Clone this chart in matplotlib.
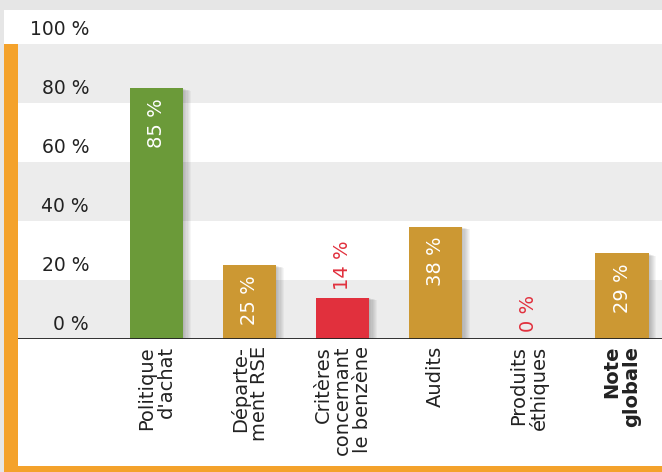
import numpy as np
import matplotlib.pyplot as plt
from matplotlib.patches import Rectangle

plt.rcParams['font.family'] = ['DejaVu Sans']

categories = ["Politique\nd'achat", "Départe-\nment RSE", "Critères\nconcernant\nle benzène",
              "Audits", "Produits\néthiques", "Note\nglobale"]
values = [85, 25, 14, 38, 0, 29]
bar_colors = ["#6b9a39", "#cc9833", "#e1303d", "#cc9833", "#e1303d", "#cc9833"]
y_ticks = [0, 20, 40, 60, 80, 100]
y_tick_labels = ["0 %", "20 %", "40 %", "60 %", "80 %", "100 %"]

W, H = 662, 472
fig = plt.figure(figsize=(W / 100, H / 100), dpi=100)
fig.patch.set_facecolor("white")

# frame: grey strips on top/left, orange strips on left/bottom
frame = fig.add_axes([0, 0, 1, 1])
frame.set_xlim(0, W)
frame.set_ylim(H, 0)
frame.axis("off")
frame.add_patch(Rectangle((0, 0), W, 10, color="#e6e6e6", lw=0))
frame.add_patch(Rectangle((0, 0), 4, H, color="#e6e6e6", lw=0))
frame.add_patch(Rectangle((4, 44), 14, H - 44, color="#f4a22b", lw=0))
frame.add_patch(Rectangle((4, 466), W - 4, 6, color="#f4a22b", lw=0))

ax = fig.add_axes([18 / W, 1 - 339 / H, 1 - 18 / W, (339 - 44) / H])
ax.set_facecolor("none")
step = 93.1
x0 = 156.5
ax.set_xlim((18 - x0) / step, (W - x0) / step)
ax.set_ylim(0, 100)

# alternating background bands
for lo in [0, 40, 80]:
    ax.axhspan(lo, lo + 20, color="#ececec", lw=0, zorder=0)

x = np.arange(len(values))
width = 0.57

# soft drop shadow to the right of each bar
for xi, v in zip(x, values):
    if v <= 0:
        continue
    for k in range(1, 8):
        ax.add_patch(Rectangle((xi - width / 2 + k * 0.012, 0), width, v - k * 0.12,
                               color="black", alpha=0.035, lw=0, zorder=1))

ax.bar(x, values, width=width, color=bar_colors, zorder=2)

for xi, v, c in zip(x, values, bar_colors):
    txt = f"{v} %"
    if v >= 20:
        ax.text(xi, v - 3.3, txt, rotation=90, ha="center", va="top",
                color="white", fontsize=14, zorder=3)
    else:
        ax.text(xi, v + 2.5, txt, rotation=90, ha="center", va="bottom",
                color=c, fontsize=14, zorder=3)

ax.axhline(0, color="#222222", lw=1.3, zorder=4)

for v, lab in zip(y_ticks, y_tick_labels):
    ax.text((89 - x0) / step, v + 1.6, lab, ha="right", va="bottom",
            fontsize=13.5, color="#222222", clip_on=False)

ax.set_xticks(x)
ax.set_xticklabels(categories, rotation=90, fontsize=14, color="#222222",
                   linespacing=1.05)
for i, lab in enumerate(ax.get_xticklabels()):
    lab.set_multialignment("right")
    if i == len(categories) - 1:
        lab.set_fontweight("bold")
ax.tick_params(axis="x", length=0, pad=5)
ax.set_yticks([])
for s in ax.spines.values():
    s.set_visible(False)

fig.savefig("out.png", dpi=100)
